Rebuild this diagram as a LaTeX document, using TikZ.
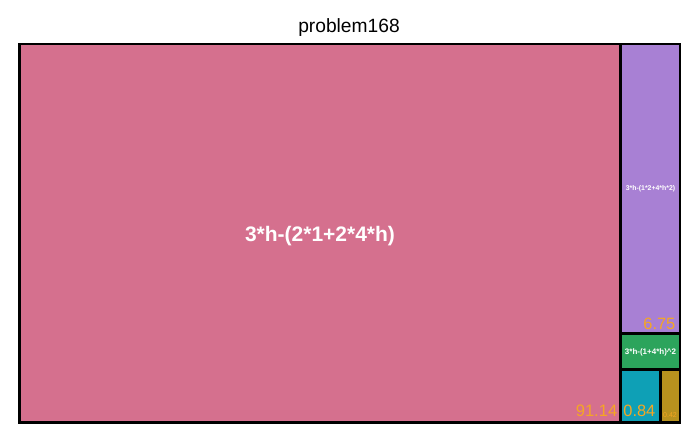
\documentclass[tikz,border=0pt]{standalone}
\usepackage{fontspec}
\setmainfont{Liberation Sans}
\definecolor{cpink}{RGB}{213,112,142}
\definecolor{cpurple}{RGB}{168,128,212}
\definecolor{cgreen}{RGB}{44,164,92}
\definecolor{cteal}{RGB}{14,160,182}
\definecolor{cgold}{RGB}{184,146,30}
\definecolor{cval}{RGB}{245,166,35}
\tikzset{
  cell/.style={draw=black, line width=2.8pt},
  lab/.style={text=white, font=\bfseries, inner sep=0pt},
  val/.style={text=cval, inner sep=0pt, anchor=base east},
}
\begin{document}
\begin{tikzpicture}[x=1pt,y=-1pt]
\useasboundingbox (0,0) rectangle (700,433);
\fill[white] (0,0) rectangle (700,433);
\node[inner sep=0pt, font=\fontsize{19.2}{22}\selectfont] (title) at (349,28) {problem168};
% cells
\path[cell, fill=cpink]   (19.5,44) rectangle (620.5,422.5);
\path[cell, fill=cpurple] (620.5,44) rectangle (680,333.5);
\path[cell, fill=cgreen]  (620.5,333.5) rectangle (680,369.5);
\path[cell, fill=cteal]   (620.5,369.5) rectangle (660.5,422.5);
\path[cell, fill=cgold]   (660.5,369.5) rectangle (680,422.5);
\draw[line width=2.8pt] (19.5,44) rectangle (680,422.5);
% labels
\node[lab, font=\bfseries\fontsize{21}{24}\selectfont] (lpink) at (320,236) {3*h-(2*1+2*4*h)};
\node[lab, font=\bfseries\fontsize{6.9}{8}\selectfont] (lpurple) at (650.5,188.5) {3*h-(1*2+4*h*2)};
\node[lab, font=\bfseries\fontsize{8}{9}\selectfont] (lgreen) at (650.5,352) {3*h-(1+4*h)\^{}2};
% values
\node[val, font=\fontsize{16.6}{18}\selectfont] (vpink) at (617.5,416.5) {91.14};
\node[val, font=\fontsize{16.4}{18}\selectfont] (vpurple) at (675.5,329.5) {6.75};
\node[val, font=\fontsize{16.4}{18}\selectfont] (vteal) at (655.5,416.5) {0.84};
\node[val, font=\fontsize{7}{8}\selectfont] (vgold) at (677,417.5) {0.42};
\end{tikzpicture}
\end{document}
